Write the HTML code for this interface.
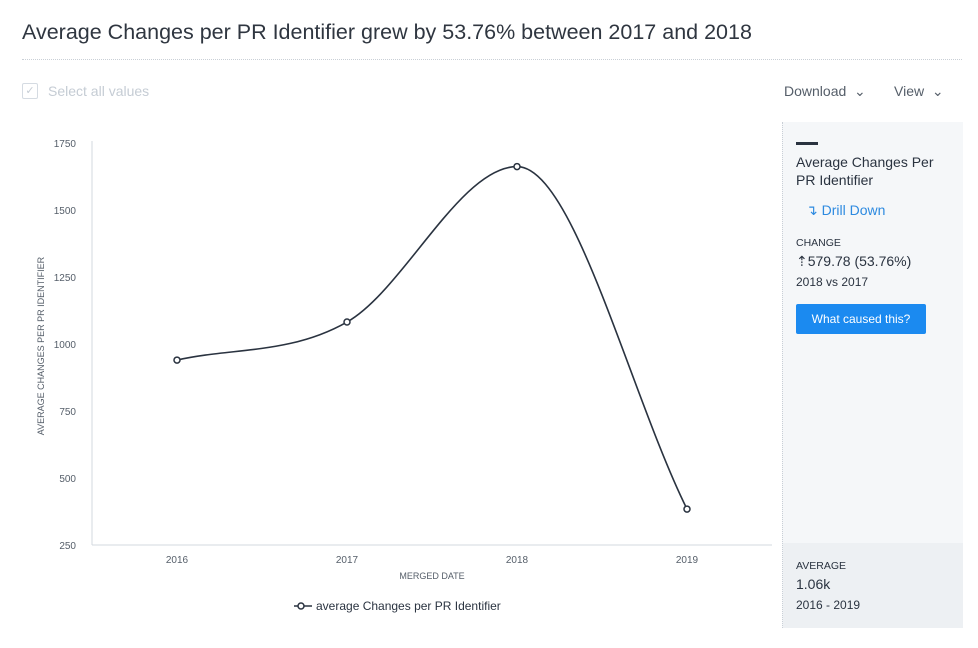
<!DOCTYPE html>
<html><head><meta charset="utf-8"><style>
body{margin:0;width:978px;height:648px;background:#fff;font-family:"Liberation Sans",sans-serif;position:relative;overflow:hidden;color:#2a3340}
.abs{position:absolute}
</style></head><body>
<div class="abs" style="left:22px;top:20px;font-size:21.5px;color:#2f3640">Average Changes per PR Identifier grew by 53.76% between 2017 and 2018</div>
<div class="abs" style="left:22px;top:59px;width:940px;border-top:1px dotted #c9cfd6"></div>
<div class="abs" style="left:22px;top:83px;width:14px;height:14px;border:1px solid #d5dbe2;border-radius:2px;color:#c5ccd4;font-size:11px;line-height:14px;text-align:center">✓</div>
<div class="abs" style="left:48px;top:83px;font-size:14px;color:#c5ccd4">Select all values</div>
<div class="abs" style="left:784px;top:83px;font-size:14px;color:#555e69">Download &nbsp;⌄</div>
<div class="abs" style="left:894px;top:83px;font-size:14px;color:#555e69">View &nbsp;⌄</div>

<div class="abs" style="left:782px;top:122px;width:180px;height:506px;background:#f5f7f9;border-left:1px dotted #c9cfd6">
 <div class="abs" style="left:13px;top:20px;width:22px;height:3px;background:#2a3340"></div>
 <div class="abs" style="left:13px;top:31px;font-size:14px;line-height:18px;width:150px">Average Changes Per PR Identifier</div>
 <div class="abs" style="left:23px;top:80px;font-size:14px;color:#2d8ae0">↴ Drill Down</div>
 <div class="abs" style="left:13px;top:115px;font-size:10.5px">CHANGE</div>
 <div class="abs" style="left:13px;top:131px;font-size:14px">⇡579.78 (53.76%)</div>
 <div class="abs" style="left:13px;top:153px;font-size:12px">2018 vs 2017</div>
 <div class="abs" style="left:13px;top:182px;width:130px;height:30px;background:#1b8af0;border-radius:2px;color:#fff;font-size:12px;line-height:30px;text-align:center">What caused this?</div>
 <div class="abs" style="left:0;top:421px;width:180px;height:85px;background:#edf0f3">
  <div class="abs" style="left:13px;top:17px;font-size:10.5px">AVERAGE</div>
  <div class="abs" style="left:13px;top:33px;font-size:14px">1.06k</div>
  <div class="abs" style="left:13px;top:55px;font-size:12px">2016 - 2019</div>
 </div>
</div>

<svg class="abs" style="left:0;top:0" width="978" height="648" id="chart"></svg>
<script>
const categories=["2016","2017","2018","2019"];
const values=[940,1082,1662,384];
const yTicks=[250,500,750,1000,1250,1500,1750];
const svg=document.getElementById('chart');
const NS='http://www.w3.org/2000/svg';
const x0=92,x1=772,yTop=143,yBot=545,yMin=250,yMax=1750;
const xs=i=>177+i*170;
const ys=v=>yBot-(v-yMin)/(yMax-yMin)*(yBot-yTop);
function mk(t,a,p){const e=document.createElementNS(NS,t);for(const k in a)e.setAttribute(k,a[k]);(p||svg).appendChild(e);return e;}
let ax=mk('line',{x1:x0,y1:yTop-2,x2:x0,y2:yBot,stroke:'#d3d9df'});


let bx=mk('line',{x1:x0,y1:yBot,x2:x1,y2:yBot,stroke:'#d3d9df'});


yTicks.forEach(v=>{const t=mk('text',{x:76,y:ys(v)+4,'text-anchor':'end','font-size':10,fill:'#555e69'});t.textContent=v;

});
categories.forEach((c,i)=>{const t=mk('text',{x:xs(i),y:563,'text-anchor':'middle','font-size':10,fill:'#555e69'});t.textContent=c;

});
let xt=mk('text',{x:432,y:579,'text-anchor':'middle','font-size':9,fill:'#555e69'});xt.textContent='MERGED DATE';


let yt=mk('text',{x:0,y:0,'text-anchor':'middle','font-size':9,fill:'#555e69',transform:'translate(44,346) rotate(-90)'});yt.textContent='AVERAGE CHANGES PER PR IDENTIFIER';


const P=values.map((v,i)=>[xs(i),ys(v)]);const n=P.length;
const d=[],m=[];for(let i=0;i<n-1;i++)d.push((P[i+1][1]-P[i][1])/(P[i+1][0]-P[i][0]));
for(let i=0;i<n;i++){if(i==0)m.push(d[0]);else if(i==n-1)m.push(d[n-2]);else m.push(d[i-1]*d[i]<=0?0:(d[i-1]+d[i])/2);}
for(let i=0;i<n-1;i++){if(d[i]==0){m[i]=m[i+1]=0;continue;}const a=m[i]/d[i],b=m[i+1]/d[i],s=a*a+b*b;if(s>9){const t=3/Math.sqrt(s);m[i]=t*a*d[i];m[i+1]=t*b*d[i];}}
let path='M'+P[0][0]+','+P[0][1];
for(let i=0;i<n-1;i++){const h=(P[i+1][0]-P[i][0])/3;path+=` C${P[i][0]+h},${P[i][1]+m[i]*h} ${P[i+1][0]-h},${P[i+1][1]-m[i+1]*h} ${P[i+1][0]},${P[i+1][1]}`;}
let ln=mk('path',{d:path,fill:'none',stroke:'#2a3340','stroke-width':1.6});


P.forEach((p,i)=>{const c=mk('circle',{cx:p[0],cy:p[1],r:3,fill:'#fff',stroke:'#2a3340','stroke-width':1.5});

});
let lg=mk('g',{});


mk('line',{x1:294,y1:606,x2:312,y2:606,stroke:'#2a3340','stroke-width':1.6},lg);
mk('circle',{cx:301,cy:606,r:3,fill:'#fff',stroke:'#2a3340','stroke-width':1.5},lg);
const lt=mk('text',{x:316,y:610,'font-size':12,fill:'#2a3340'},lg);lt.textContent='average Changes per PR Identifier';
</script>
</body></html>
